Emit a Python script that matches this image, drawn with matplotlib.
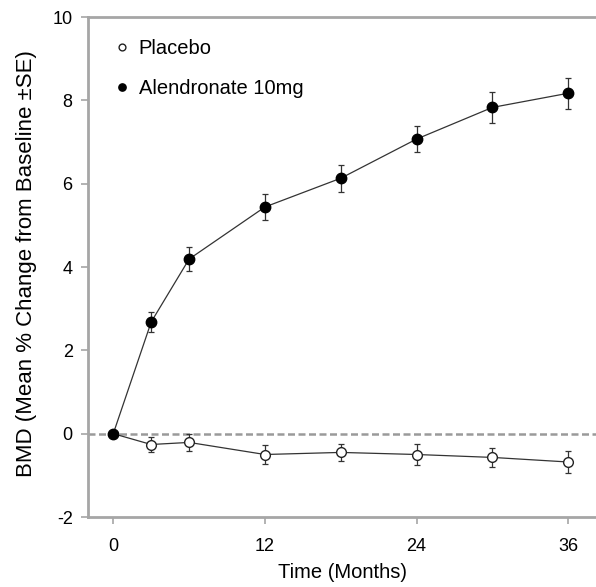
import numpy as np
import matplotlib.pyplot as plt

plt.rcParams['font.family'] = ['Liberation Sans', 'DejaVu Sans']
plt.rcParams['axes.unicode_minus'] = False

months = [0, 3, 6, 12, 18, 24, 30, 36]
alendronate = [0, 2.68, 4.19, 5.44, 6.13, 7.07, 7.83, 8.17]
alendronate_se = [0, 0.25, 0.29, 0.32, 0.33, 0.31, 0.37, 0.37]
placebo = [0, -0.26, -0.21, -0.50, -0.45, -0.50, -0.57, -0.68]
placebo_se = [0, 0.17, 0.20, 0.22, 0.20, 0.26, 0.23, 0.26]

xticks = [0, 12, 24, 36]
yticks = [-2, 0, 2, 4, 6, 8, 10]

fig = plt.figure(figsize=(5.96, 5.87), dpi=100)
ax = fig.add_axes([88/596, 1 - 517/587, 508/596, 500/587])

grey = '#a6a6a6'
ax.axhline(0, color='#9a9a9a', lw=1.8, ls=(0, (2.8, 1.4)), zorder=1)

ax.errorbar(months[1:], placebo[1:], yerr=placebo_se[1:], fmt='none',
            ecolor='#333333', elinewidth=0.9, capsize=2.5, capthick=0.9, zorder=2)
ax.plot(months, placebo, '-', color='#333333', lw=0.9, zorder=2)
ax.plot(months[1:], placebo[1:], 'o', mfc='white', mec='#222222', mew=1.0, ms=7,
        zorder=3, label='Placebo')

ax.errorbar(months[1:], alendronate[1:], yerr=alendronate_se[1:], fmt='none',
            ecolor='#333333', elinewidth=0.9, capsize=2.5, capthick=0.9, zorder=4)
ax.plot(months, alendronate, '-', color='#333333', lw=0.9, zorder=4)
ax.plot(months, alendronate, 'o', color='black', ms=7.5, zorder=5,
        label='Alendronate 10mg')

ax.set_xlim(-2, 38.2)
ax.set_ylim(-2, 10)
ax.set_xticks(xticks)
ax.set_yticks(yticks)
ax.tick_params(axis='both', labelsize=13, color=grey, width=1.2, length=5)
ax.tick_params(axis='x', pad=10)
ax.tick_params(axis='y', pad=6)

ax.spines['right'].set_visible(False)
for s in ['left', 'top', 'bottom']:
    ax.spines[s].set_color(grey)
    ax.spines[s].set_linewidth(2)

ax.set_xlabel('Time (Months)', fontsize=14.5, labelpad=6)
ax.set_ylabel('BMD (Mean % Change from Baseline ±SE)', fontsize=16)
ax.yaxis.set_label_coords(-0.1, 0.507)

ax.legend(loc='upper left', bbox_to_anchor=(0.04, 0.972), frameon=False,
          fontsize=14.5, markerscale=0.7, handlelength=0.6, handletextpad=0.5,
          labelspacing=1.05, borderaxespad=0)

plt.savefig('out.png', dpi=100)
